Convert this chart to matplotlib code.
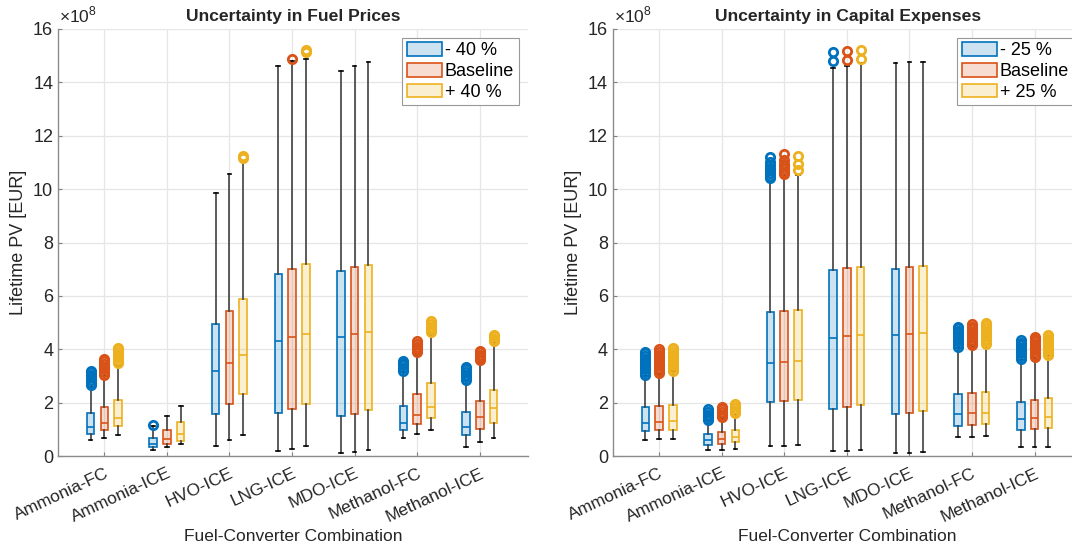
import numpy as np
import matplotlib
matplotlib.use("Agg")
import matplotlib.pyplot as plt
from matplotlib.patches import Patch

plt.rcParams['font.family'] = ['Liberation Sans', 'DejaVu Sans']
plt.rcParams['mathtext.fontset'] = 'custom'
plt.rcParams['mathtext.rm'] = 'Liberation Sans'

combos = ['Ammonia-FC', 'Ammonia-ICE', 'HVO-ICE', 'LNG-ICE', 'MDO-ICE', 'Methanol-FC', 'Methanol-ICE']

# box statistics in units of 1e8 EUR: whisker low, Q1, median, Q3, whisker high

# fuel price scenarios
fuel_m40_low = [0.60, 0.21, 0.39, 0.17, 0.11, 0.69, 0.32]
fuel_m40_q1 = [0.84, 0.35, 1.57, 1.60, 1.49, 0.97, 0.80]
fuel_m40_med = [1.09, 0.45, 3.20, 4.32, 4.47, 1.24, 1.10]
fuel_m40_q3 = [1.60, 0.66, 4.96, 6.82, 6.94, 1.89, 1.65]
fuel_m40_high = [2.60, 1.11, 9.86, 14.60, 14.43, 3.14, 2.80]
fuel_m40_out = [[2.65, 2.75, 2.85, 2.95, 3.05, 3.15, 3.2], [1.16], [], [], [],
                [3.2, 3.3, 3.4, 3.5, 3.55], [2.85, 2.95, 3.05, 3.15, 3.25, 3.35]]

fuel_base_low = [0.69, 0.32, 0.60, 0.27, 0.16, 0.82, 0.51]
fuel_base_q1 = [0.97, 0.46, 1.96, 1.77, 1.59, 1.20, 1.00]
fuel_base_med = [1.24, 0.64, 3.48, 4.46, 4.57, 1.54, 1.46]
fuel_base_q3 = [1.84, 0.97, 5.42, 7.02, 7.08, 2.31, 2.06]
fuel_base_high = [3.00, 1.51, 10.55, 14.79, 14.60, 3.83, 3.51]
fuel_base_out = [[3.05, 3.15, 3.25, 3.35, 3.45, 3.55, 3.65], [], [], [14.89], [],
                 [3.9, 4.0, 4.1, 4.2, 4.3], [3.6, 3.7, 3.8, 3.9, 3.95]]

fuel_p40_low = [0.77, 0.46, 0.80, 0.39, 0.22, 0.97, 0.69]
fuel_p40_q1 = [1.11, 0.57, 2.34, 1.95, 1.71, 1.42, 1.22]
fuel_p40_med = [1.41, 0.82, 3.77, 4.58, 4.63, 1.84, 1.81]
fuel_p40_q3 = [2.10, 1.27, 5.88, 7.21, 7.17, 2.72, 2.49]
fuel_p40_high = [3.42, 1.87, 11.02, 14.88, 14.78, 4.57, 4.23]
fuel_p40_out = [[3.5, 3.6, 3.7, 3.8, 3.9, 4.0, 4.05], [], [11.18, 11.23], [15.14, 15.2], [],
                [4.65, 4.75, 4.85, 4.95, 5.05], [4.3, 4.4, 4.5, 4.55]]

# capital expense scenarios
capex_m25_low = [0.60, 0.21, 0.39, 0.17, 0.11, 0.70, 0.32]
capex_m25_q1 = [0.95, 0.41, 2.01, 1.77, 1.56, 1.14, 0.97]
capex_m25_med = [1.24, 0.61, 3.48, 4.43, 4.55, 1.56, 1.37]
capex_m25_q3 = [1.82, 0.82, 5.38, 6.97, 7.02, 2.31, 2.02]
capex_m25_high = [2.99, 1.30, 10.29, 14.54, 14.73, 4.05, 3.58]
capex_m25_out = [[3.05, 3.15, 3.25, 3.35, 3.45, 3.55, 3.65, 3.75, 3.85, 3.9],
                 [1.35, 1.45, 1.55, 1.65, 1.75],
                 [10.4, 10.5, 10.6, 10.7, 10.8, 10.9, 11.0, 11.2],
                 [14.81, 15.13], [],
                 [4.1, 4.2, 4.3, 4.4, 4.5, 4.6, 4.7, 4.8, 4.85],
                 [3.65, 3.75, 3.85, 3.95, 4.05, 4.15, 4.25, 4.35]]

capex_base_low = [0.62, 0.22, 0.39, 0.20, 0.11, 0.72, 0.34]
capex_base_q1 = [0.97, 0.46, 2.05, 1.84, 1.61, 1.16, 1.01]
capex_base_med = [1.27, 0.64, 3.52, 4.48, 4.58, 1.60, 1.42]
capex_base_q3 = [1.86, 0.89, 5.43, 7.03, 7.08, 2.36, 2.09]
capex_base_high = [3.07, 1.42, 10.48, 14.60, 14.76, 4.11, 3.67]
capex_base_out = [[3.1, 3.2, 3.3, 3.4, 3.5, 3.6, 3.7, 3.8, 3.9, 4.0],
                  [1.45, 1.55, 1.65, 1.75, 1.85],
                  [10.55, 10.65, 10.75, 10.85, 10.95, 11.1, 11.3],
                  [14.85, 15.16], [],
                  [4.15, 4.25, 4.35, 4.45, 4.55, 4.65, 4.75, 4.85, 4.95],
                  [3.7, 3.8, 3.9, 4.0, 4.1, 4.2, 4.3, 4.4, 4.45]]

capex_p25_low = [0.65, 0.25, 0.41, 0.21, 0.14, 0.75, 0.35]
capex_p25_q1 = [0.99, 0.51, 2.09, 1.91, 1.69, 1.19, 1.05]
capex_p25_med = [1.31, 0.70, 3.55, 4.52, 4.62, 1.62, 1.47]
capex_p25_q3 = [1.91, 0.96, 5.48, 7.08, 7.11, 2.41, 2.16]
capex_p25_high = [3.17, 1.55, 10.54, 14.73, 14.78, 4.17, 3.76]
capex_p25_out = [[3.2, 3.3, 3.4, 3.5, 3.6, 3.7, 3.8, 3.9, 4.0, 4.05],
                 [1.6, 1.7, 1.8, 1.9, 1.95],
                 [10.7, 10.95, 11.25],
                 [14.89, 15.21], [],
                 [4.2, 4.3, 4.4, 4.5, 4.6, 4.7, 4.8, 4.9, 5.0],
                 [3.8, 3.9, 4.0, 4.1, 4.2, 4.3, 4.4, 4.5, 4.55]]

colors = ['#0072BD', '#D95319', '#EDB120']


def make_stats(low, q1, med, q3, high, out):
    stats = []
    for i in range(len(low)):
        stats.append({'whislo': low[i], 'q1': q1[i], 'med': med[i],
                      'q3': q3[i], 'whishi': high[i], 'fliers': out[i]})
    return stats


def draw_panel(ax, title, groups, labels):
    x = np.arange(1, len(combos) + 1)
    offsets = [-0.22, 0.0, 0.22]
    for stats, col, off in zip(groups, colors, offsets):
        ax.bxp(stats, positions=x + off, widths=0.12, capwidths=0.06,
               patch_artist=True, manage_ticks=False, zorder=3,
               boxprops=dict(facecolor=matplotlib.colors.to_rgba(col, 0.2),
                             edgecolor=col, linewidth=1.2),
               medianprops=dict(color=col, linewidth=1.2),
               whiskerprops=dict(color='#404040', linewidth=1.2),
               capprops=dict(color='black', linewidth=1.2),
               flierprops=dict(marker='o', markerfacecolor='none',
                               markeredgecolor=col, markersize=6,
                               markeredgewidth=2))

    ax.set_xlim(0.26, 7.77)
    ax.set_ylim(0, 16)
    ax.set_yticks(np.arange(0, 17, 2))
    ax.text(0.003, 1.008, r'$\times10^{8}$', transform=ax.transAxes,
            fontsize=12.5, color='#262626', ha='left', va='bottom')
    ax.set_xticks(x)
    ax.set_xticklabels(combos, rotation=25, ha='right', rotation_mode='anchor')
    ax.tick_params(direction='in', length=3, labelsize=13, colors='#262626',
                   color='#808080')
    ax.tick_params(axis='x', labelsize=12.5, pad=7)
    ax.grid(True, color='#e6e6e6', linewidth=0.9)
    ax.set_axisbelow(True)
    for s in ['top', 'right']:
        ax.spines[s].set_visible(False)
    for s in ['left', 'bottom']:
        ax.spines[s].set_color('#8c8c8c')
        ax.spines[s].set_linewidth(1.0)

    ax.set_title(title, fontsize=12.6, fontweight='bold', color='#262626', pad=6)
    ax.set_ylabel('Lifetime PV [EUR]', fontsize=13, color='#262626', labelpad=4)
    ax.set_xlabel('Fuel-Converter Combination', fontsize=12.5, color='#262626')
    ax.xaxis.set_label_coords(0.5, -0.171)

    handles = [Patch(facecolor=matplotlib.colors.to_rgba(c, 0.2), edgecolor=c, linewidth=1.2)
               for c in colors]
    leg = ax.legend(handles, labels, loc='upper right', bbox_to_anchor=(0.98, 0.98),
                    fontsize=13, fancybox=False, framealpha=1, edgecolor='#999999',
                    handlelength=1.95, handleheight=0.8, handletextpad=0.15,
                    labelspacing=0.2, borderpad=0.25, borderaxespad=0)
    leg.get_frame().set_linewidth(0.8)


fig = plt.figure(figsize=(10.72, 5.46), dpi=100)
ax1 = fig.add_axes([0.0541, 0.1648, 0.4384, 0.7821])
ax2 = fig.add_axes([0.5716, 0.1648, 0.4384, 0.7821])

fuel_groups = [
    make_stats(fuel_m40_low, fuel_m40_q1, fuel_m40_med, fuel_m40_q3, fuel_m40_high, fuel_m40_out),
    make_stats(fuel_base_low, fuel_base_q1, fuel_base_med, fuel_base_q3, fuel_base_high, fuel_base_out),
    make_stats(fuel_p40_low, fuel_p40_q1, fuel_p40_med, fuel_p40_q3, fuel_p40_high, fuel_p40_out),
]
capex_groups = [
    make_stats(capex_m25_low, capex_m25_q1, capex_m25_med, capex_m25_q3, capex_m25_high, capex_m25_out),
    make_stats(capex_base_low, capex_base_q1, capex_base_med, capex_base_q3, capex_base_high, capex_base_out),
    make_stats(capex_p25_low, capex_p25_q1, capex_p25_med, capex_p25_q3, capex_p25_high, capex_p25_out),
]

draw_panel(ax1, 'Uncertainty in Fuel Prices', fuel_groups, ['- 40 %', 'Baseline', '+ 40 %'])
draw_panel(ax2, 'Uncertainty in Capital Expenses', capex_groups, ['- 25 %', 'Baseline', '+ 25 %'])

fig.savefig('out.png', dpi=100)
